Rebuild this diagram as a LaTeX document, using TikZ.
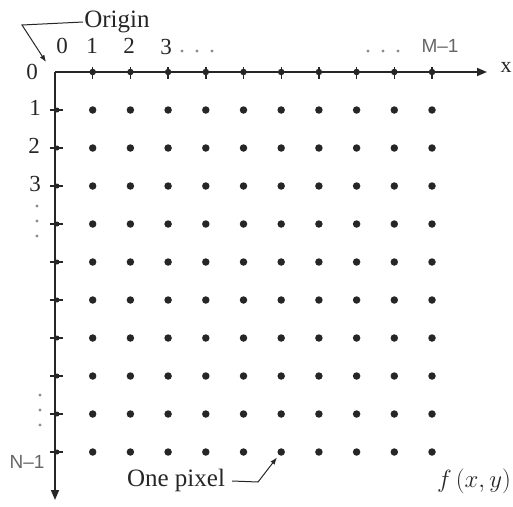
\documentclass[tikz,border=0pt]{standalone}
\usepackage{fontspec}
\setmainfont{Liberation Serif}
\setsansfont{Liberation Sans}
\usetikzlibrary{arrows.meta, positioning}

\begin{document}
\begin{tikzpicture}[
  x=1pt, y=-1pt,
  every node/.style={font=\fontsize{23}{26}\selectfont, text=black!85, inner sep=1pt},
  axis/.style={line width=1.6pt, draw=black!85, -{Triangle[length=10pt, width=8pt]}},
  pix/.style={circle, fill=black!85, minimum size=7.5pt, inner sep=0pt},
  tick/.style={line width=1.4pt, draw=black!85},
  lead/.style={line width=1pt, draw=black!85},
  lbl/.style={font=\sffamily\fontsize{19}{21}\selectfont, text=black!60},
  big/.style={font=\fontsize{25}{28}\selectfont},
  vdot/.style={fill=black!45}
]
\useasboundingbox (0,0) rectangle (513,506);

% Axes
\coordinate (O) at (55,72);
\coordinate (xend) at (487,72);
\coordinate (yend) at (55,500);
\draw[axis] (O) -- (xend);
\draw[axis] (O) -- (yend);
\node[font=\fontsize{22}{24}\selectfont] (xlab) at (506,67) {x};

% Ticks on the axes
\foreach \i in {1,...,10} {
  \draw[tick] (55+\i*37.7,67) -- (55+\i*37.7,79);
  \node[pix, minimum size=6.5pt] (t-\i-0) at (55+\i*37.7,72) {};
  \draw[tick] (50,72+\i*38) -- (63,72+\i*38);
  \node[pix, minimum size=5pt] (t-0-\i) at (57,72+\i*38) {};
}

% Pixels
\foreach \i in {1,...,10}
  \foreach \j in {1,...,10}
    \node[pix] (p-\i-\j) at (55+\i*37.7,72+\j*38) {};

% Column labels
\node (c0) at (62,46) {0};
\node (c1) at (92,46) {1};
\node (c2) at (129,46) {2};
\node (c3) at (166,47) {3};
\foreach \x in {182,197,212} \fill[vdot] (\x,51) circle (1.6pt);
\foreach \x in {368,383,398} \fill[vdot] (\x,51) circle (1.6pt);
\node[lbl] (cM) at (440,46) {M--1};

% Row labels
\node (r0) at (32,72) {0};
\node (r1) at (35,108) {1};
\node (r2) at (34,146) {2};
\node (r3) at (35,184) {3};
\node[lbl] (rN) at (27,462) {N--1};
\foreach \y in {206,221,236} \fill[vdot] (37,\y) circle (1.6pt);
\foreach \y in {395,410,425} \fill[vdot] (40,\y) circle (1.6pt);

% Origin
\node[big] (origin) at (117,22) {Origin};
\coordinate (obend) at (22,25);
\draw[lead, -{Latex[length=7pt]}] (origin.west) -- (obend) -- (46,62);

% One pixel
\node[big] (onepix) at (176,480) {One pixel};
\coordinate (pbend) at (258,482);
\draw[lead, -{Latex[length=7pt]}, shorten >=3pt] (onepix.east) ++(6,1) -- (pbend) -- (p-6-10);

% Image function
\node[big] (fxy) at (474,481) {$f\,(x, y)$};

\end{tikzpicture}
\end{document}
